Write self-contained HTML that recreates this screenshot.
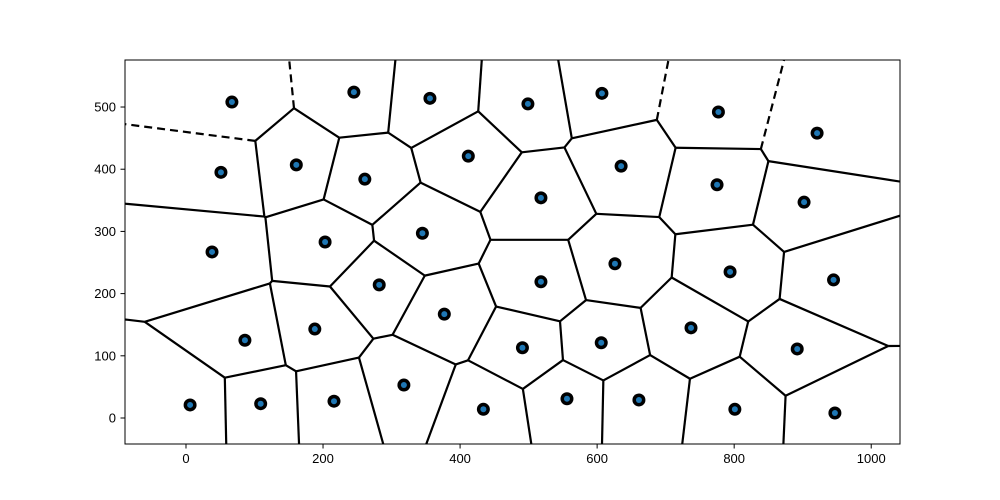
<!DOCTYPE html>
<html><head><meta charset="utf-8"><style>
html,body{margin:0;background:#fff;width:1000px;height:500px;overflow:hidden}
svg{display:block;font-family:"Liberation Sans",sans-serif}
</style></head><body>
<svg id="chart" width="1000" height="500" xmlns="http://www.w3.org/2000/svg">
<defs><clipPath id="plotclip"><rect x="125" y="60" width="775" height="384"/></clipPath></defs>
<rect x="0" y="0" width="1000" height="500" fill="#fff"/>
<g id="cells" clip-path="url(#plotclip)"></g>
<g id="pts" clip-path="url(#plotclip)"></g>
<rect x="125" y="60" width="775" height="384" fill="none" stroke="#000" stroke-width="1"/>
<g id="axes"></g>
</svg>
<script>
const xs=[67,245,356,499,607,777,921,51,161,261,412,518,635,775,902,38,203,345,626,794,945,282,518,377,86,188,737,491,606,892,318,556,661,6,109,216,434,801,947];
const ys=[508,524,514,505,522,492,458,395,407,384,421,354,405,375,347,267,283,297,248,235,222,214,219,167,125,143,145,113,121,111,53,31,29,21,23,27,14,14,8];
const xTicks=[0,200,400,600,800,1000];
const yTicks=[0,100,200,300,400,500];
const X0=-89,X1=1042,Y0=-41.8,Y1=575.6;
const sx=v=>125+(v-X0)/(X1-X0)*775;
const sy=v=>444-(v-Y0)/(Y1-Y0)*384;
const NS="http://www.w3.org/2000/svg";
function mk(t,a,p){const e=document.createElementNS(NS,t);for(const k in a)e.setAttribute(k,a[k]);p.appendChild(e);return e;}
const B=[-3000,-3000,4000,4000];
function clip(poly,ax,ay,bx,by){
  const nx=bx-ax,ny=by-ay,c=(bx*bx+by*by-ax*ax-ay*ay)/2;
  const f=p=>nx*p[0]+ny*p[1]-c;const out=[];
  for(let i=0;i<poly.length;i++){const p=poly[i],q=poly[(i+1)%poly.length];const fp=f(p),fq=f(q);
    if(fp<=0)out.push(p);
    if((fp<0&&fq>0)||(fp>0&&fq<0)){const t=fp/(fp-fq);out.push([p[0]+t*(q[0]-p[0]),p[1]+t*(q[1]-p[1])]);}}
  return out;}
const onB=p=>Math.abs(p[0]-B[0])<1e-6||Math.abs(p[0]-B[2])<1e-6||Math.abs(p[1]-B[1])<1e-6||Math.abs(p[1]-B[3])<1e-6;
const inView=p=>p[0]>=X0&&p[0]<=X1&&p[1]>=Y0&&p[1]<=Y1;
const cg=document.getElementById('cells');const seen=new Set();
for(let i=0;i<xs.length;i++){
  let poly=[[B[0],B[1]],[B[2],B[1]],[B[2],B[3]],[B[0],B[3]]];
  for(let j=0;j<xs.length;j++){if(j!==i)poly=clip(poly,xs[i],ys[i],xs[j],ys[j]);}
  for(let k=0;k<poly.length;k++){let p=poly[k],q=poly[(k+1)%poly.length];
    const bp=onB(p),bq=onB(q);if(bp&&bq)continue;
    if(bp){const t=p;p=q;q=t;}
    const inf=bp||bq;
    const key=inf?'d'+p[0].toFixed(3)+','+p[1].toFixed(3):[p,q].map(v=>v[0].toFixed(3)+','+v[1].toFixed(3)).sort().join('|');
    if(seen.has(key))continue;seen.add(key);
    const dashed=inf&&inView(p)&&p[1]>400;
    const l=mk('line',{x1:sx(p[0]),y1:sy(p[1]),x2:sx(q[0]),y2:sy(q[1]),stroke:'#000','stroke-width':2.2},cg);
    if(dashed)l.setAttribute('stroke-dasharray','8,5');
    
    
  }}
const pg=document.getElementById('pts');
for(let i=0;i<xs.length;i++){
  const o=mk('circle',{cx:sx(xs[i]),cy:sy(ys[i]),r:6.5,fill:'#000'},pg);
  
  
  const c=mk('circle',{cx:sx(xs[i]),cy:sy(ys[i]),r:3,fill:'#1f77b4'},pg);
  
  
}
const ag=document.getElementById('axes');
for(const v of xTicks){const x=sx(v);
  const t=mk('line',{x1:x,y1:444,x2:x,y2:448.5,stroke:'#000'},ag);
  
  const tx=mk('text',{x:x,y:463,'font-size':13,'text-anchor':'middle'},ag);tx.textContent=v;
  }
for(const v of yTicks){const y=sy(v);
  const t=mk('line',{x1:120.5,y1:y,x2:125,y2:y,stroke:'#000'},ag);
  
  const tx=mk('text',{x:116,y:y+4.5,'font-size':13,'text-anchor':'end'},ag);tx.textContent=v;
  }
</script>
</body></html>
